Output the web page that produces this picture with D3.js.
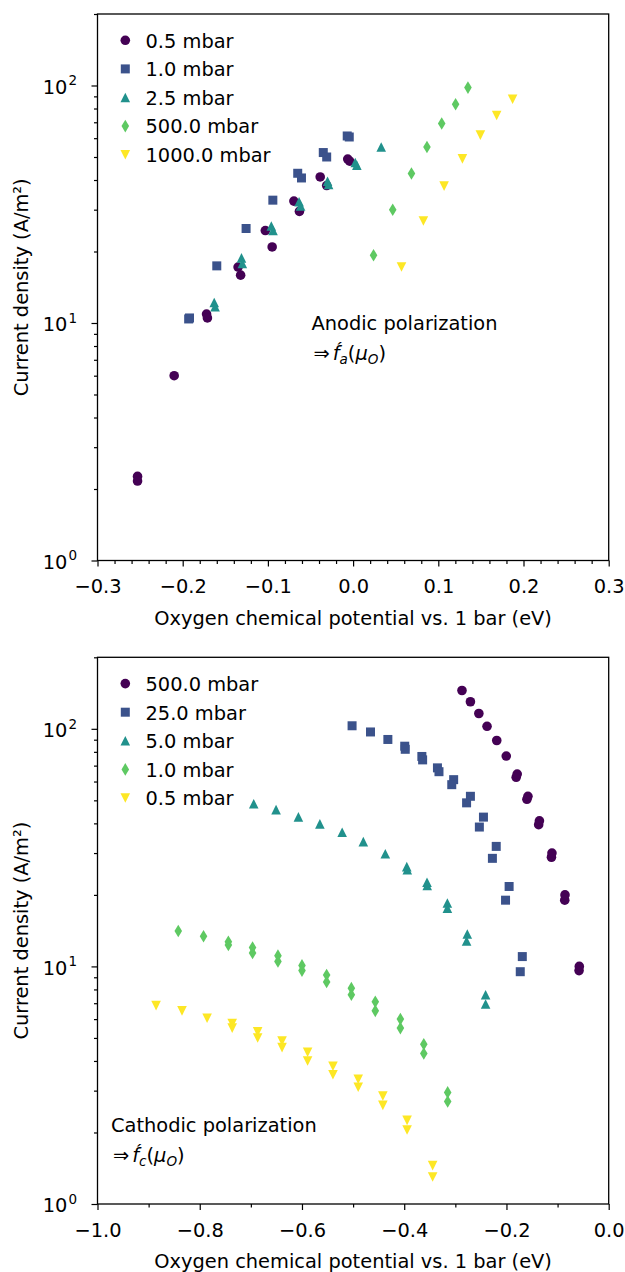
<!DOCTYPE html>
<html lang="en">
<head>
<meta charset="UTF-8">
<title>Anodic / cathodic polarization</title>
<script src="https://cdn.jsdelivr.net/npm/d3@7"></script>
<style>
    body { margin: 0; background: #fff; }
    svg { display: block; font-family: 'DejaVu Sans', sans-serif; }
</style>
</head>
<body>
<div id="chart"></div>
<script>
// ---- anodic panel (top) ----
const anodicLabels = ["0.5 mbar", "1.0 mbar", "2.5 mbar", "500.0 mbar", "1000.0 mbar"];
const anodic05X = [-0.253, -0.253, -0.210, -0.172, -0.171, -0.135, -0.132, -0.103, -0.095, -0.0695, -0.063, -0.0386, -0.031, -0.0063, -0.004];
const anodic05Y = [2.26, 2.16, 6.0, 10.9, 10.5, 17.2, 15.9, 24.5, 20.9, 32.6, 29.5, 41.2, 37.9, 49, 48];
const anodic10X = [-0.193, -0.192, -0.160, -0.1256, -0.0942, -0.065, -0.0606, -0.035, -0.031, -0.0069, -0.0045];
const anodic10Y = [10.4, 10.5, 17.4, 25.0, 32.9, 42.7, 40.8, 52.2, 50.0, 61.3, 60.7];
const anodic25X = [-0.163, -0.162, -0.131, -0.130, -0.096, -0.094, -0.0634, -0.0616, -0.030, -0.0288, 0.0025, 0.0044, 0.033];
const anodic25Y = [12.2, 11.7, 18.8, 17.8, 25.6, 24.5, 32.4, 31.1, 39.5, 38.3, 47.4, 46.2, 55.1];
const anodic500X = [0.024, 0.0465, 0.0685, 0.0867, 0.104, 0.1203, 0.1348];
const anodic500Y = [19.3, 30.0, 42.6, 55.1, 69.2, 83.4, 98.0];
const anodic1000X = [0.0568, 0.0825, 0.1068, 0.1283, 0.1494, 0.1685, 0.1872];
const anodic1000Y = [17.2, 26.9, 37.7, 49.1, 61.8, 74.8, 87.5];
const anodicXTicks = [-0.3, -0.2, -0.1, 0, 0.1, 0.2, 0.3];

// ---- cathodic panel (bottom) ----
const cathodicLabels = ["500.0 mbar", "25.0 mbar", "5.0 mbar", "1.0 mbar", "0.5 mbar"];
const cathodic500X = [-0.287, -0.2705, -0.254, -0.238, -0.219, -0.2004, -0.181, -0.179, -0.160, -0.158, -0.137, -0.1355, -0.112, -0.111, -0.086, -0.0855, -0.058, -0.0575];
const cathodic500Y = [145, 130, 116, 102.5, 89.3, 76.8, 62.5, 64.5, 50.5, 52, 39.5, 41, 28.8, 30, 19, 20, 9.6, 10];
const cathodic25X = [-0.502, -0.466, -0.432, -0.399, -0.398, -0.3655, -0.364, -0.335, -0.332, -0.3033, -0.307, -0.2705, -0.278, -0.245, -0.253, -0.220, -0.2275, -0.1948, -0.2018, -0.169, -0.173];
const cathodic25Y = [103, 97, 90.2, 84.5, 82, 76.5, 74, 68.5, 66, 61.1, 58.2, 52, 48.8, 42.5, 38.6, 32, 28.5, 21.7, 19, 11, 9.5];
const cathodic5X = [-0.6944, -0.6507, -0.607, -0.565, -0.5214, -0.48, -0.437, -0.395, -0.394, -0.3554, -0.355, -0.3156, -0.3156, -0.2766, -0.278, -0.2408, -0.2408];
const cathodic5Y = [48.4, 45.7, 42.6, 39.8, 36.7, 33.5, 29.8, 26.3, 25.5, 22.6, 21.9, 18.5, 17.6, 13.7, 12.8, 7.6, 6.95];
const cathodic1X = [-0.842, -0.7926, -0.744, -0.744, -0.6967, -0.6967, -0.647, -0.647, -0.600, -0.600, -0.5518, -0.5518, -0.5034, -0.5034, -0.4566, -0.4566, -0.4075, -0.4075, -0.3617, -0.3617, -0.315, -0.315];
const cathodic1Y = [14.1, 13.4, 12.7, 12.3, 12.0, 11.4, 11.1, 10.5, 10.1, 9.6, 9.2, 8.6, 8.1, 7.6, 7.1, 6.5, 6.0, 5.5, 4.7, 4.3, 2.95, 2.7];
const cathodic05X = [-0.8854, -0.8347, -0.7856, -0.7365, -0.7365, -0.6867, -0.6867, -0.639, -0.639, -0.589, -0.589, -0.5394, -0.5394, -0.49, -0.49, -0.4418, -0.4418, -0.3944, -0.3944, -0.3444, -0.3444];
const cathodic05Y = [6.84, 6.5, 6.05, 5.75, 5.5, 5.3, 5.0, 4.85, 4.55, 4.35, 4.0, 3.8, 3.5, 3.35, 3.1, 2.85, 2.6, 2.25, 2.05, 1.45, 1.3];
const cathodicXTicks = [-1.0, -0.8, -0.6, -0.4, -0.2, 0.0];

const yMajorTicks = [1, 10, 100];
const yMinorTicks = [2, 3, 4, 5, 6, 7, 8, 9, 20, 30, 40, 50, 60, 70, 80, 90, 200];

const colors = ["#440154", "#3b528b", "#21918c", "#5ec962", "#fde725"];
const shapes = ["circle", "square", "up", "diamond", "down"];

const w = 625;
const h = 1272;
const left = 97.5, right = 608.7;
const fontSize = 19.4;

const svg = d3.select("#chart").append("svg")
    .attr("width", w)
    .attr("height", h);

const markerPath = (shape) => {
    const r = 4.8;
    switch (shape) {
        case "circle": return d3.symbol(d3.symbolCircle, Math.PI * r * r)();
        case "square": return "M-4.5,-4.5H4.5V4.5H-4.5Z";
        case "up": return `M0,${-r}L${r},${r}L${-r},${r}Z`;
        case "down": return `M0,${r}L${r},${-r}L${-r},${-r}Z`;
        case "diamond": return "M0,-6.3L3.8,0L0,6.3L-3.8,0Z";
    }
};

const drawPanel = (cfg) => {
    const x = d3.scaleLinear().domain(cfg.xDomain).range([left, right]);
    const y = d3.scaleLog().domain([1, 200]).range([cfg.bottom, cfg.top]);
    const g = svg.append("g");

    // minor ticks
    g.append("g")
        .attr("transform", `translate(0,${cfg.bottom})`)
        .call(d3.axisBottom(x).tickValues(cfg.xMinor).tickSize(3.5).tickFormat(""));
    g.append("g")
        .attr("transform", `translate(${left},0)`)
        .call(d3.axisLeft(y).tickValues(yMinorTicks).tickSize(3.5).tickFormat(""));

    // major ticks
    const xAxis = g.append("g")
        .attr("transform", `translate(0,${cfg.bottom})`)
        .call(d3.axisBottom(x).tickValues(cfg.xTicks).tickSize(6).tickPadding(13)
            .tickFormat(d3.format(".1f")));
    xAxis.selectAll("text").attr("font-size", fontSize).attr("fill", "#000")
        .attr("font-family", "'DejaVu Sans', sans-serif");
    g.append("g")
        .attr("transform", `translate(${left},0)`)
        .call(d3.axisLeft(y).tickValues(yMajorTicks).tickSize(6).tickFormat(""));

    g.selectAll(".domain").remove();
    g.selectAll(".tick line").attr("stroke", "#000").attr("stroke-width", 1.2);

    // log labels 10^n
    yMajorTicks.forEach((v, i) => {
        const t = g.append("text")
            .attr("x", left - 20.5)
            .attr("y", y(v) + 8.3)
            .attr("text-anchor", "end")
            .attr("font-size", fontSize);
        t.append("tspan").text("10");
        t.append("tspan").attr("font-size", 13.5).attr("dy", -8.5).attr("dx", 1).text(i);
    });

    // frame
    g.append("rect")
        .attr("x", left).attr("y", cfg.top)
        .attr("width", right - left).attr("height", cfg.bottom - cfg.top)
        .attr("fill", "none").attr("stroke", "#000").attr("stroke-width", 1.3);

    // axis labels
    g.append("text")
        .attr("x", (left + right) / 2)
        .attr("y", cfg.bottom + 64)
        .attr("text-anchor", "middle")
        .attr("font-size", fontSize)
        .text("Oxygen chemical potential vs. 1 bar (eV)");
    g.append("text")
        .attr("transform", `translate(28,${(cfg.top + cfg.bottom) / 2}) rotate(-90)`)
        .attr("text-anchor", "middle")
        .attr("font-size", fontSize)
        .text("Current density (A/m²)");

    // points
    cfg.series.forEach((s, i) => {
        g.append("g").selectAll("path")
            .data(s.xs.map((d, j) => [d, s.ys[j]]))
            .enter()
            .append("path")
            .attr("d", markerPath(shapes[i]))
            .attr("transform", (d) => `translate(${x(d[0])},${y(d[1])})`)
            .attr("fill", colors[i]);
    });

    // legend
    cfg.labels.forEach((lab, i) => {
        const ly = cfg.top + 26.3 + i * 28.6;
        g.append("path")
            .attr("d", markerPath(shapes[i]))
            .attr("transform", `translate(125.3,${ly})`)
            .attr("fill", colors[i]);
        g.append("text")
            .attr("x", 145.5)
            .attr("y", ly + 7.3)
            .attr("font-size", fontSize)
            .text(lab);
    });

    // annotation
    const ax = cfg.noteX, ay = cfg.noteY;
    g.append("text")
        .attr("x", ax).attr("y", ay)
        .attr("font-size", fontSize)
        .text(cfg.note);
    const m = g.append("text")
        .attr("x", ax + 2).attr("y", ay + 30)
        .attr("font-size", fontSize);
    m.append("tspan").text("⇒");
    m.append("tspan").attr("font-style", "italic").attr("dx", 3).text("f\u0301");
    m.append("tspan").attr("font-style", "italic").attr("font-size", 13.5).attr("dy", 4).text(cfg.sub);
    m.append("tspan").attr("dy", -4).text("(");
    m.append("tspan").attr("font-style", "italic").text("μ");
    m.append("tspan").attr("font-style", "italic").attr("font-size", 13.5).attr("dy", 4).text("O");
    m.append("tspan").attr("dy", -4).text(")");
};

const minorRange = (a, b, step, major) => d3.range(0, Math.round((b - a) / step) + 1)
    .map((k) => a + k * step)
    .filter((v) => Math.abs(v / major - Math.round(v / major)) > 1e-6);

drawPanel({
    top: 14, bottom: 560.5,
    xDomain: [-0.3, 0.3],
    xTicks: anodicXTicks,
    xMinor: minorRange(-0.3, 0.3, 0.02, 0.1),
    series: [
        { xs: anodic05X, ys: anodic05Y },
        { xs: anodic10X, ys: anodic10Y },
        { xs: anodic25X, ys: anodic25Y },
        { xs: anodic500X, ys: anodic500Y },
        { xs: anodic1000X, ys: anodic1000Y }
    ],
    labels: anodicLabels,
    note: "Anodic polarization", sub: "a",
    noteX: 311.5, noteY: 329.5
});

drawPanel({
    top: 657.3, bottom: 1204,
    xDomain: [-1, 0],
    xTicks: cathodicXTicks,
    xMinor: minorRange(-1, 0, 0.1, 0.2),
    series: [
        { xs: cathodic500X, ys: cathodic500Y },
        { xs: cathodic25X, ys: cathodic25Y },
        { xs: cathodic5X, ys: cathodic5Y },
        { xs: cathodic1X, ys: cathodic1Y },
        { xs: cathodic05X, ys: cathodic05Y }
    ],
    labels: cathodicLabels,
    note: "Cathodic polarization", sub: "c",
    noteX: 111, noteY: 1131.5
});
</script>
</body>
</html>
